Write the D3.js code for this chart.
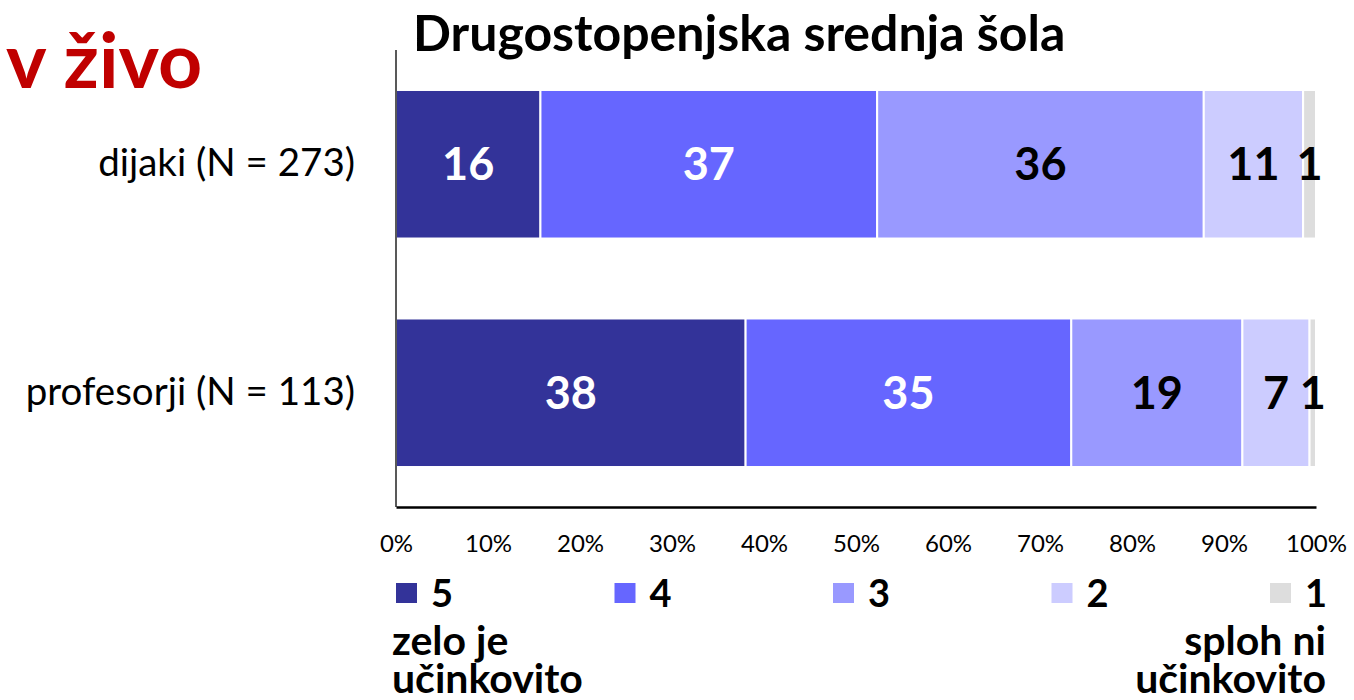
<!DOCTYPE html>
<html>
<head>
  <meta charset="utf-8">
  <title>v živo</title>
  <style>
    body { margin: 0; padding: 0; background: #fff; }
    svg text { font-family: Lato, "Open Sans", sans-serif; }
  </style>
</head>
<body>
  <script src="https://d3js.org/d3.v7.min.js"></script>
  <div id="chart"></div>
  <script>
    // data (percent shares, labels show rounded values)
    var categories = ["dijaki (N = 273)", "profesorji (N = 113)"]
    var grades = ["5", "4", "3", "2", "1"]
    var dijaki = [15.7, 36.6, 35.5, 10.8, 1.4]
    var profesorji = [38.0, 35.4, 18.6, 7.3, 0.7]
    var ticks = [0, 10, 20, 30, 40, 50, 60, 70, 80, 90, 100]
    var colors = ["#333399", "#6666ff", "#9999ff", "#ccccff", "#dddddd"]
    var labelColors = ["#fff", "#fff", "#000", "#000", "#000"]

    var width = 1354, height = 700
    var svg = d3.select("#chart").append("svg")
      .attr("width", width)
      .attr("height", height)

    var x = d3.scaleLinear().domain([0, 100]).range([396, 1316])
    var y = d3.scaleBand().domain(categories).range([50, 507])
      .paddingInner(0.35).paddingOuter(0.175)

    // big red heading
    svg.append("text")
      .attr("x", 6).attr("y", 88)
      .attr("fill", "#c00000")
      .style("font-size", "77px").style("font-weight", "bold")
      .text("v živo")

    svg.append("text")
      .attr("x", 413).attr("y", 51)
      .style("font-size", "50px").style("font-weight", "bold")
      .text("Drugostopenjska srednja šola")

    var rows = [dijaki, profesorji]
    rows.forEach(function (vals, r) {
      var cat = categories[r]
      var acc = 0
      var segs = vals.map(function (v, i) {
        var s = { start: acc, value: v, i: i }
        acc += v
        return s
      })
      var g = svg.append("g")
      g.selectAll("rect").data(segs).enter().append("rect")
        .attr("x", function (d) { return x(d.start) })
        .attr("y", y(cat))
        .attr("width", function (d) { return x(d.start + d.value) - x(d.start) })
        .attr("height", y.bandwidth())
        .attr("fill", function (d) { return colors[d.i] })
        .attr("stroke", "#fff")
        .attr("stroke-width", 2)
      g.selectAll("text").data(segs).enter().append("text")
        .attr("x", function (d) { return x(d.start + d.value / 2) })
        .attr("y", y(cat) + y.bandwidth() / 2 + 16)
        .attr("text-anchor", "middle")
        .attr("fill", function (d) { return labelColors[d.i] })
        .style("font-size", "45px").style("font-weight", "bold")
        .text(function (d) { return Math.round(d.value) })
    })

    // category labels
    svg.selectAll(".cat").data(categories).enter().append("text")
      .attr("class", "cat")
      .attr("x", 355)
      .attr("y", function (d) { return y(d) + y.bandwidth() / 2 + 12 })
      .attr("text-anchor", "end")
      .style("font-size", "38.5px")
      .text(function (d) { return d })

    // axes
    svg.append("line")
      .attr("x1", 396).attr("x2", 396).attr("y1", 50).attr("y2", 507)
      .attr("stroke", "#595959").attr("stroke-width", 2)
    var xAxis = svg.append("g")
      .attr("transform", "translate(0,507)")
      .call(d3.axisBottom(x).tickValues(ticks).tickSize(0).tickPadding(28)
        .tickFormat(function (d) { return d + "%" }))
    xAxis.select(".domain").attr("stroke", "#000").attr("stroke-width", 2.5)
    xAxis.selectAll("text")
      .style("font-family", "Lato, sans-serif")
      .style("font-size", "24px")
      .attr("fill", "#000")

    // legend
    var leg = svg.selectAll(".leg").data(grades).enter().append("g")
      .attr("class", "leg")
      .attr("transform", function (d, i) { return "translate(" + (396 + i * 218.5) + ",583)" })
    leg.append("rect")
      .attr("width", 21).attr("height", 20)
      .attr("fill", function (d, i) { return colors[i] })
    leg.append("text")
      .attr("x", 35).attr("y", 24)
      .style("font-size", "38px").style("font-weight", "bold")
      .text(function (d) { return d })

    // scale end notes, two lines each
    var notes = [
      { lines: ["zelo je", "učinkovito"], x: 392, anchor: "start" },
      { lines: ["sploh ni", "učinkovito"], x: 1326, anchor: "end" }
    ]
    notes.forEach(function (n) {
      var t = svg.append("text")
        .attr("y", 655)
        .attr("text-anchor", n.anchor)
        .style("font-size", "41px").style("font-weight", "bold")
      n.lines.forEach(function (line, k) {
        t.append("tspan")
          .attr("x", n.x)
          .attr("dy", k == 0 ? 0 : 38)
          .text(line)
      })
    })
  </script>
</body>
</html>
